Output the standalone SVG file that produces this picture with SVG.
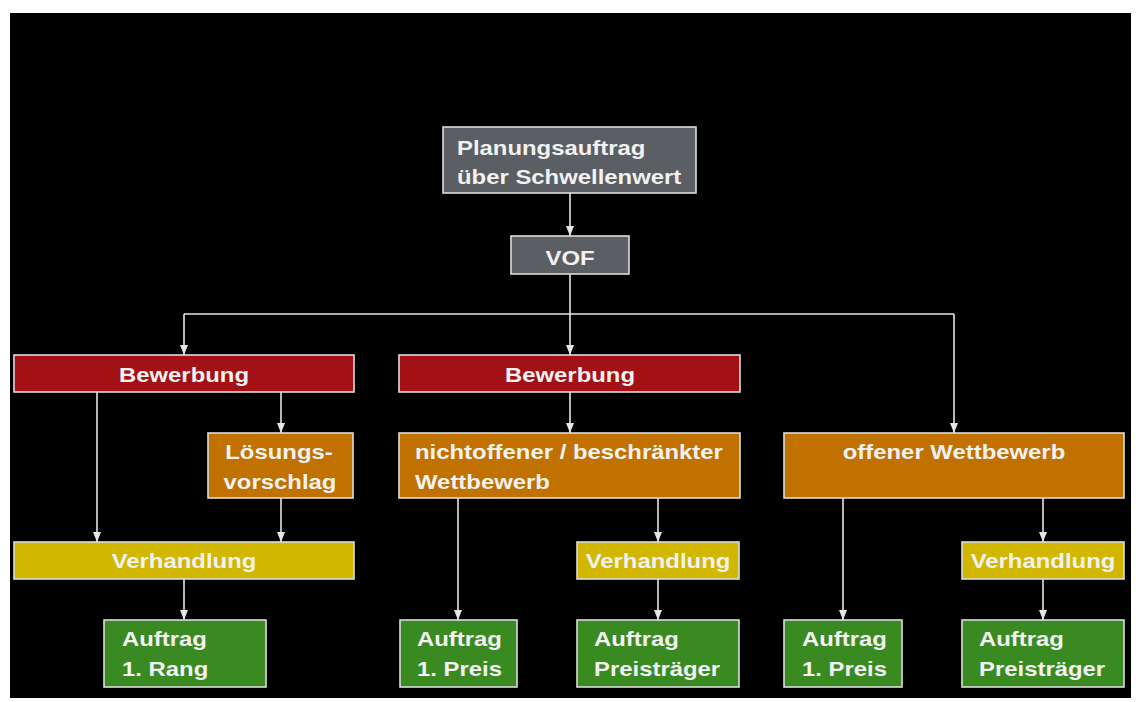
<svg xmlns="http://www.w3.org/2000/svg" width="1136" height="702" viewBox="0 0 1136 702">
<defs>
<style>
.box{stroke:#dcdcdc;stroke-width:1.6}
.gray{fill:#5b5e63}
.red{fill:#a31116}
.orange{fill:#c17100}
.yellow{fill:#d1b700}
.green{fill:#3a8a22}
.t{font-family:"Liberation Sans",Arial,sans-serif;font-weight:bold;font-size:20.6px;fill:#f2f2f2}
.c{text-anchor:middle}
.line{stroke:#e6e6e6;stroke-width:1.6;fill:none}
</style>
<marker id="arr" viewBox="0 0 10 8" refX="10" refY="4" markerWidth="10" markerHeight="8" markerUnits="userSpaceOnUse" orient="auto">
<path d="M0,0 L10,4 L0,8 Z" fill="#e6e6e6"/>
</marker>
</defs>
<rect x="0" y="0" width="1136" height="702" fill="#ffffff"/>
<rect x="10" y="13" width="1121" height="685" fill="#000000"/>

<g id="connectors">
<path class="line" d="M570,193 V236" marker-end="url(#arr)"/>
<path class="line" d="M570,274 V355" marker-end="url(#arr)"/>
<path class="line" d="M184,314 H954"/>
<path class="line" d="M184,314 V355" marker-end="url(#arr)"/>
<path class="line" d="M954,314 V433" marker-end="url(#arr)"/>
<path class="line" d="M97,392 V542" marker-end="url(#arr)"/>
<path class="line" d="M281,392 V433" marker-end="url(#arr)"/>
<path class="line" d="M281,498 V542" marker-end="url(#arr)"/>
<path class="line" d="M184,579 V620" marker-end="url(#arr)"/>
<path class="line" d="M570,392 V433" marker-end="url(#arr)"/>
<path class="line" d="M458,498 V620" marker-end="url(#arr)"/>
<path class="line" d="M658,498 V542" marker-end="url(#arr)"/>
<path class="line" d="M658,579 V620" marker-end="url(#arr)"/>
<path class="line" d="M843,498 V620" marker-end="url(#arr)"/>
<path class="line" d="M1043,498 V542" marker-end="url(#arr)"/>
<path class="line" d="M1043,579 V620" marker-end="url(#arr)"/>
</g>

<g id="planungsauftrag">
<rect class="box gray" x="443" y="127" width="253" height="66"/>
<text class="t" transform="translate(457,155) scale(1.16,1)">Planungsauftrag</text>
<text class="t" transform="translate(457,184) scale(1.16,1)">über Schwellenwert</text>
</g>
<g id="vof">
<rect class="box gray" x="511" y="236" width="118" height="38"/>
<text class="t c" transform="translate(570,265) scale(1.16,1)">VOF</text>
</g>

<g id="bewerbung1">
<rect class="box red" x="14" y="355" width="340" height="37"/>
<text class="t c" transform="translate(184,382) scale(1.16,1)">Bewerbung</text>
</g>
<g id="loesungsvorschlag">
<rect class="box orange" x="208" y="433" width="145" height="65"/>
<text class="t c" transform="translate(279,459) scale(1.16,1)">Lösungs-</text>
<text class="t c" transform="translate(280,489) scale(1.16,1)">vorschlag</text>
</g>
<g id="verhandlung1">
<rect class="box yellow" x="14" y="542" width="340" height="37"/>
<text class="t c" transform="translate(184,568) scale(1.16,1)">Verhandlung</text>
</g>
<g id="auftrag-rang">
<rect class="box green" x="104" y="620" width="162" height="67"/>
<text class="t" transform="translate(122,646) scale(1.16,1)">Auftrag</text>
<text class="t" transform="translate(122,676) scale(1.16,1)">1. Rang</text>
</g>

<g id="bewerbung2">
<rect class="box red" x="399" y="355" width="341" height="37"/>
<text class="t c" transform="translate(570,382) scale(1.16,1)">Bewerbung</text>
</g>
<g id="nichtoffener">
<rect class="box orange" x="399" y="433" width="341" height="65"/>
<text class="t" transform="translate(415,459) scale(1.16,1)">nichtoffener / beschränkter</text>
<text class="t" transform="translate(415,489) scale(1.16,1)">Wettbewerb</text>
</g>
<g id="auftrag-preis2">
<rect class="box green" x="400" y="620" width="117" height="67"/>
<text class="t" transform="translate(417,646) scale(1.16,1)">Auftrag</text>
<text class="t" transform="translate(417,676) scale(1.16,1)">1. Preis</text>
</g>
<g id="verhandlung2">
<rect class="box yellow" x="577" y="542" width="162" height="37"/>
<text class="t c" transform="translate(658,568) scale(1.16,1)">Verhandlung</text>
</g>
<g id="auftrag-preistraeger2">
<rect class="box green" x="577" y="620" width="162" height="67"/>
<text class="t" transform="translate(594,646) scale(1.16,1)">Auftrag</text>
<text class="t" transform="translate(594,676) scale(1.16,1)">Preisträger</text>
</g>

<g id="offener">
<rect class="box orange" x="784" y="433" width="340" height="65"/>
<text class="t c" transform="translate(954,459) scale(1.16,1)">offener Wettbewerb</text>
</g>
<g id="auftrag-preis3">
<rect class="box green" x="784" y="620" width="118" height="67"/>
<text class="t" transform="translate(802,646) scale(1.16,1)">Auftrag</text>
<text class="t" transform="translate(802,676) scale(1.16,1)">1. Preis</text>
</g>
<g id="verhandlung3">
<rect class="box yellow" x="962" y="542" width="162" height="37"/>
<text class="t c" transform="translate(1043,568) scale(1.16,1)">Verhandlung</text>
</g>
<g id="auftrag-preistraeger3">
<rect class="box green" x="962" y="620" width="162" height="67"/>
<text class="t" transform="translate(979,646) scale(1.16,1)">Auftrag</text>
<text class="t" transform="translate(979,676) scale(1.16,1)">Preisträger</text>
</g>
</svg>
